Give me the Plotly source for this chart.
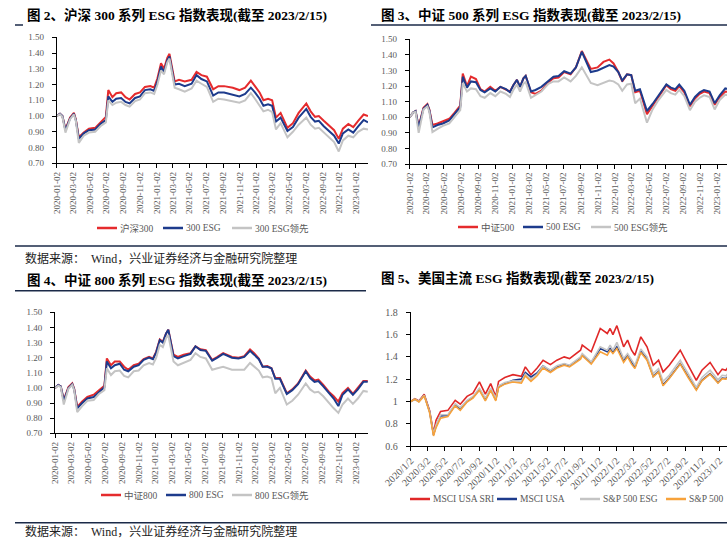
import plotly.graph_objects as go

W, H = 727, 547

# ---------------- data ----------------
CN_DATES = [
    "2020-01-02", "2020-01-14", "2020-01-23", "2020-02-03", "2020-02-20", "2020-03-05", "2020-03-12",
    "2020-03-23", "2020-04-10", "2020-04-29", "2020-05-22", "2020-06-10", "2020-06-30", "2020-07-09",
    "2020-07-24", "2020-08-07", "2020-08-25", "2020-09-10", "2020-09-25", "2020-10-15", "2020-11-02",
    "2020-11-20", "2020-12-10", "2020-12-24", "2021-01-05", "2021-01-18", "2021-01-29", "2021-02-10",
    "2021-02-18", "2021-03-09", "2021-03-25", "2021-04-15", "2021-05-10", "2021-05-28", "2021-06-15",
    "2021-07-05", "2021-07-28", "2021-08-16", "2021-09-06", "2021-10-08", "2021-11-01", "2021-11-22",
    "2021-12-13", "2021-12-28", "2022-01-14", "2022-01-28", "2022-02-14", "2022-03-01", "2022-03-15",
    "2022-04-01", "2022-04-26", "2022-05-16", "2022-06-06", "2022-07-04", "2022-07-20", "2022-08-05",
    "2022-08-19", "2022-09-06", "2022-09-26", "2022-10-14", "2022-10-31", "2022-11-15", "2022-12-05",
    "2022-12-23", "2023-01-10", "2023-01-30", "2023-02-15",
]

HS300 = [1.00, 1.015, 1.00, 0.915, 0.99, 1.02, 0.98, 0.865, 0.895, 0.92, 0.925, 0.96, 0.995, 1.165,
         1.12, 1.145, 1.15, 1.12, 1.105, 1.14, 1.15, 1.185, 1.19, 1.18, 1.24, 1.335, 1.30, 1.37,
         1.395, 1.22, 1.23, 1.22, 1.23, 1.28, 1.26, 1.25, 1.17, 1.19, 1.19, 1.18, 1.165, 1.18,
         1.225, 1.19, 1.15, 1.10, 1.11, 1.10, 0.99, 1.02, 0.925, 0.955, 1.02, 1.08, 1.03, 0.995,
         1.00, 0.97, 0.935, 0.91, 0.855, 0.92, 0.95, 0.93, 0.97, 1.01, 1.00]
ESG300 = [1.00, 1.015, 1.00, 0.91, 0.985, 1.015, 0.975, 0.855, 0.89, 0.91, 0.915, 0.95, 0.975, 1.125,
          1.09, 1.11, 1.115, 1.09, 1.08, 1.115, 1.125, 1.165, 1.17, 1.16, 1.22, 1.315, 1.28, 1.355,
          1.378, 1.20, 1.205, 1.19, 1.205, 1.26, 1.235, 1.22, 1.13, 1.15, 1.15, 1.135, 1.125, 1.14,
          1.18, 1.15, 1.11, 1.065, 1.075, 1.065, 0.965, 0.99, 0.905, 0.93, 0.99, 1.045, 0.995, 0.965,
          0.97, 0.935, 0.905, 0.875, 0.825, 0.89, 0.915, 0.895, 0.935, 0.975, 0.96]
ESG300_LEAD = [1.00, 1.012, 0.995, 0.895, 0.98, 1.01, 0.97, 0.83, 0.875, 0.895, 0.90, 0.935, 0.96, 1.10,
               1.07, 1.085, 1.09, 1.07, 1.06, 1.095, 1.105, 1.145, 1.15, 1.14, 1.20, 1.29, 1.265, 1.34,
               1.365, 1.18, 1.17, 1.155, 1.175, 1.225, 1.205, 1.185, 1.09, 1.11, 1.105, 1.095, 1.085, 1.10,
               1.145, 1.11, 1.07, 1.03, 1.04, 1.025, 0.915, 0.955, 0.865, 0.90, 0.945, 0.99, 0.945, 0.92,
               0.925, 0.895, 0.865, 0.835, 0.775, 0.845, 0.875, 0.865, 0.90, 0.92, 0.915]

ZZ500 = [1.00, 1.03, 1.04, 0.94, 1.06, 1.085, 1.05, 0.95, 0.96, 0.975, 0.99, 1.03, 1.075, 1.28,
         1.20, 1.26, 1.245, 1.18, 1.165, 1.195, 1.17, 1.195, 1.18, 1.165, 1.205, 1.24, 1.195, 1.25,
         1.265, 1.16, 1.15, 1.17, 1.225, 1.25, 1.255, 1.29, 1.275, 1.32, 1.425, 1.31, 1.32, 1.355,
         1.37, 1.345, 1.29, 1.23, 1.275, 1.27, 1.16, 1.17, 1.02, 1.075, 1.13, 1.205, 1.18, 1.17,
         1.20, 1.16, 1.07, 1.12, 1.15, 1.165, 1.155, 1.08, 1.13, 1.165, 1.16]
ESG500 = [1.00, 1.03, 1.04, 0.935, 1.055, 1.08, 1.045, 0.935, 0.95, 0.96, 0.98, 1.02, 1.065, 1.26,
          1.19, 1.23, 1.225, 1.175, 1.16, 1.185, 1.165, 1.195, 1.18, 1.16, 1.205, 1.24, 1.195, 1.25,
          1.265, 1.165, 1.175, 1.195, 1.235, 1.26, 1.265, 1.295, 1.28, 1.32, 1.42, 1.29, 1.30, 1.315,
          1.335, 1.325, 1.29, 1.235, 1.275, 1.27, 1.17, 1.18, 1.04, 1.085, 1.14, 1.21, 1.19, 1.18,
          1.21, 1.17, 1.08, 1.13, 1.16, 1.175, 1.165, 1.09, 1.14, 1.185, 1.18]
ESG500_LEAD = [1.00, 1.03, 1.035, 0.90, 1.05, 1.07, 1.035, 0.905, 0.925, 0.945, 0.96, 1.00, 1.045, 1.22,
               1.165, 1.185, 1.18, 1.135, 1.125, 1.155, 1.135, 1.165, 1.15, 1.13, 1.175, 1.21, 1.165, 1.215,
               1.225, 1.125, 1.14, 1.165, 1.215, 1.23, 1.23, 1.255, 1.23, 1.265, 1.32, 1.22, 1.205, 1.22,
               1.235, 1.23, 1.21, 1.17, 1.21, 1.215, 1.09, 1.12, 0.965, 1.05, 1.11, 1.175, 1.155, 1.145,
               1.175, 1.135, 1.045, 1.10, 1.125, 1.14, 1.13, 1.05, 1.11, 1.145, 1.14]

ZZ800 = [1.00, 1.02, 1.01, 0.92, 1.005, 1.03, 0.995, 0.875, 0.91, 0.94, 0.955, 0.985, 1.015, 1.195,
         1.15, 1.175, 1.175, 1.14, 1.12, 1.15, 1.16, 1.19, 1.205, 1.195, 1.24, 1.32, 1.305, 1.36,
         1.385, 1.22, 1.205, 1.22, 1.23, 1.275, 1.255, 1.25, 1.185, 1.205, 1.23, 1.205, 1.20, 1.21,
         1.255, 1.23, 1.195, 1.14, 1.145, 1.13, 1.065, 1.065, 0.965, 0.99, 1.03, 1.115, 1.075, 1.05,
         1.055, 1.02, 0.975, 0.945, 0.91, 0.965, 1.00, 0.96, 1.00, 1.045, 1.045]
ESG800 = [1.00, 1.02, 1.01, 0.915, 1.00, 1.025, 0.99, 0.865, 0.90, 0.93, 0.94, 0.975, 1.005, 1.175,
          1.13, 1.15, 1.16, 1.12, 1.11, 1.14, 1.15, 1.185, 1.20, 1.19, 1.235, 1.315, 1.30, 1.36,
          1.385, 1.21, 1.195, 1.21, 1.225, 1.275, 1.25, 1.245, 1.18, 1.20, 1.225, 1.20, 1.195, 1.205,
          1.245, 1.22, 1.19, 1.14, 1.14, 1.13, 1.06, 1.06, 0.96, 0.985, 1.025, 1.11, 1.065, 1.04,
          1.045, 1.01, 0.965, 0.93, 0.88, 0.955, 0.99, 0.955, 0.99, 1.04, 1.04]
ESG800_LEAD = [1.00, 1.015, 1.005, 0.89, 0.995, 1.02, 0.985, 0.84, 0.88, 0.915, 0.92, 0.96, 0.985, 1.13,
               1.085, 1.11, 1.115, 1.08, 1.07, 1.11, 1.115, 1.15, 1.165, 1.155, 1.20, 1.285, 1.27, 1.33,
               1.35, 1.175, 1.15, 1.165, 1.185, 1.23, 1.205, 1.195, 1.12, 1.13, 1.14, 1.12, 1.12, 1.12,
               1.165, 1.14, 1.115, 1.07, 1.075, 1.065, 0.965, 1.00, 0.89, 0.915, 0.955, 1.03, 0.99, 0.97,
               0.975, 0.945, 0.90, 0.865, 0.835, 0.89, 0.93, 0.895, 0.93, 0.98, 0.975]

US_DATES = [
    "2020-01-02", "2020-01-17", "2020-01-31", "2020-02-19", "2020-03-09", "2020-03-23", "2020-04-01",
    "2020-04-17", "2020-05-13", "2020-06-08", "2020-06-26", "2020-07-20", "2020-08-10", "2020-09-02",
    "2020-09-23", "2020-10-12", "2020-10-30", "2020-11-09", "2020-12-01", "2020-12-30", "2021-01-29",
    "2021-02-12", "2021-03-04", "2021-03-26", "2021-04-16", "2021-05-12", "2021-06-04", "2021-06-30",
    "2021-07-19", "2021-08-27", "2021-09-02", "2021-10-04", "2021-11-05", "2021-11-30", "2021-12-10",
    "2021-12-20", "2022-01-03", "2022-01-27", "2022-02-10", "2022-02-24", "2022-03-08", "2022-03-29",
    "2022-04-20", "2022-05-12", "2022-05-31", "2022-06-16", "2022-07-08", "2022-08-16", "2022-09-13",
    "2022-09-30", "2022-10-12", "2022-11-01", "2022-11-30", "2022-12-28", "2023-01-12", "2023-01-25",
    "2023-02-02", "2023-02-15",
]
MSCI_USA_SRI = [1.00, 1.025, 1.005, 1.065, 0.92, 0.72, 0.83, 0.91, 0.92, 1.01, 0.975, 1.045, 1.075, 1.175,
                1.065, 1.16, 1.045, 1.18, 1.215, 1.24, 1.225, 1.31, 1.24, 1.30, 1.37, 1.33, 1.37, 1.40,
                1.385, 1.46, 1.505, 1.445, 1.655, 1.61, 1.655, 1.60, 1.68, 1.49, 1.55, 1.46, 1.415, 1.58,
                1.49, 1.325, 1.37, 1.265, 1.325, 1.46, 1.325, 1.25, 1.19, 1.28, 1.35, 1.24, 1.29, 1.28,
                1.31, 1.30]
MSCI_USA = [1.00, 1.02, 1.00, 1.055, 0.91, 0.70, 0.78, 0.87, 0.875, 0.97, 0.935, 1.00, 1.035, 1.11,
            1.015, 1.11, 1.015, 1.13, 1.16, 1.19, 1.20, 1.26, 1.22, 1.255, 1.32, 1.27, 1.31, 1.335,
            1.32, 1.39, 1.415, 1.345, 1.475, 1.445, 1.475, 1.44, 1.49, 1.37, 1.41, 1.35, 1.305, 1.45,
            1.38, 1.225, 1.27, 1.15, 1.21, 1.34, 1.22, 1.155, 1.11, 1.19, 1.25, 1.17, 1.21, 1.205,
            1.225, 1.22]
SP500_ESG = [1.00, 1.02, 1.00, 1.055, 0.91, 0.71, 0.79, 0.88, 0.88, 0.98, 0.945, 1.01, 1.045, 1.12,
             1.03, 1.12, 1.03, 1.14, 1.17, 1.185, 1.18, 1.245, 1.195, 1.245, 1.32, 1.28, 1.32, 1.34,
             1.325, 1.40, 1.43, 1.355, 1.49, 1.46, 1.505, 1.46, 1.53, 1.385, 1.43, 1.37, 1.325, 1.47,
             1.40, 1.25, 1.295, 1.18, 1.235, 1.37, 1.245, 1.18, 1.125, 1.215, 1.28, 1.195, 1.235, 1.23,
             1.25, 1.245]
SP500 = [1.00, 1.02, 0.995, 1.05, 0.90, 0.69, 0.765, 0.85, 0.865, 0.96, 0.92, 0.995, 1.03, 1.10,
         1.005, 1.10, 1.005, 1.125, 1.155, 1.175, 1.165, 1.23, 1.18, 1.23, 1.30, 1.26, 1.30, 1.325,
         1.31, 1.38, 1.41, 1.335, 1.445, 1.415, 1.46, 1.43, 1.475, 1.35, 1.40, 1.335, 1.295, 1.44,
         1.37, 1.22, 1.265, 1.14, 1.205, 1.335, 1.215, 1.15, 1.10, 1.185, 1.245, 1.165, 1.205, 1.20,
         1.22, 1.215]

NAMES_2 = ["沪深300", "300 ESG", "300 ESG领先"]
NAMES_3 = ["中证500", "500 ESG", "500 ESG领先"]
NAMES_4 = ["中证800", "800 ESG", "800 ESG领先"]
NAMES_5 = ["MSCI USA SRI", "MSCI USA", "S&P 500 ESG", "S&P 500"]

TITLES = [
    "图 2、沪深 300 系列 ESG 指数表现(截至 2023/2/15)",
    "图 3、中证 500 系列 ESG 指数表现(截至 2023/2/15)",
    "图 4、中证 800 系列 ESG 指数表现(截至 2023/2/15)",
    "图 5、美国主流 ESG 指数表现(截至 2023/2/15)",
]
SOURCE = "数据来源：  Wind，兴业证券经济与金融研究院整理"

# ---------------- styling ----------------
RED = "#E52B2D"
NAVY = "#1D3B8C"
GRAY = "#C4C4C4"
ORANGE = "#F7A23B"
RED5 = "#E02828"
SERIF = "Liberation Serif, Times New Roman, Noto Sans CJK SC"
TICKC = "#595959"


def px(x):
    return x / W


def py(y):
    return 1 - y / H


fig = go.Figure()

panels = [
    dict(ax="", dates=CN_DATES, names=NAMES_2, vals=[HS300, ESG300, ESG300_LEAD],
         cols=[RED, NAVY, GRAY], legy=228, legx=[97, 163, 232]),
    dict(ax="2", dates=CN_DATES, names=NAMES_3, vals=[ZZ500, ESG500, ESG500_LEAD],
         cols=[RED, NAVY, GRAY], legy=227, legx=[458, 523, 591]),
    dict(ax="3", dates=CN_DATES, names=NAMES_4, vals=[ZZ800, ESG800, ESG800_LEAD],
         cols=[RED, NAVY, GRAY], legy=495, legx=[101, 166, 232]),
    dict(ax="4", dates=US_DATES, names=NAMES_5, vals=[MSCI_USA_SRI, MSCI_USA, SP500_ESG, SP500],
         cols=[RED5, NAVY, GRAY, ORANGE], legy=499, legx=[410, 497, 580, 666]),
]

shapes = []
ann = []
for p in panels:
    for name, vals, col, lx in zip(p["names"], p["vals"], p["cols"], p["legx"]):
        fig.add_trace(go.Scatter(
            x=p["dates"], y=vals, name=name, mode="lines",
            line=dict(color=col, width=2 if p["ax"] != "4" else 1.6),
            xaxis="x" + p["ax"], yaxis="y" + p["ax"], showlegend=False,
        ))
        # legend key (line sample + label)
        shapes.append(dict(type="line", xref="paper", yref="paper",
                           x0=px(lx), x1=px(lx + 20), y0=py(p["legy"]), y1=py(p["legy"]),
                           line=dict(color=col, width=2.5)))
        ann.append(dict(text=name, x=px(lx + 21), y=py(p["legy"]), xref="paper", yref="paper",
                        xanchor="left", yanchor="middle", align="left", showarrow=False,
                        font=dict(family=SERIF, size=9.5, color=TICKC)))

common_x = dict(type="date", showline=True, linecolor="#000000", linewidth=1,
                ticks="outside", ticklen=4, tickcolor="#000000", showgrid=False,
                tick0="2020-01-02", dtick="M2", automargin=False,
                tickfont=dict(family=SERIF, size=9, color=TICKC))
common_y = dict(showline=True, linecolor="#000000", linewidth=1, ticks="outside",
                ticklen=4, tickcolor="#000000", showgrid=False, zeroline=False,
                ticklabelstandoff=6, automargin=False,
                tickfont=dict(family=SERIF, size=9, color=TICKC))

layout = dict(
    template="none",
    width=W, height=H, margin=dict(l=0, r=0, t=0, b=0, pad=0, autoexpand=False),
    paper_bgcolor="white", plot_bgcolor="white", showlegend=False,
    xaxis=dict(common_x, domain=[px(56.7), px(368)], range=["2020-01-02", "2023-02-15"],
               tickformat="%Y-%m-%d", tickangle=-90, anchor="y"),
    yaxis=dict(common_y, domain=[py(163.3), py(37.3)], range=[0.7, 1.5], dtick=0.1,
               tickformat=".2f", anchor="x"),
    xaxis2=dict(common_x, domain=[px(409.7), 1.0], range=["2020-01-02", "2023-02-05"],
                tickformat="%Y-%m-%d", tickangle=-90, anchor="y2"),
    yaxis2=dict(common_y, domain=[py(164), py(39.3)], range=[0.7, 1.5], dtick=0.1,
                tickformat=".2f", anchor="x2"),
    xaxis3=dict(common_x, domain=[px(55), px(368)], range=["2020-01-02", "2023-02-16"],
                tickformat="%Y-%m-%d", tickangle=-90, anchor="y3"),
    yaxis3=dict(common_y, domain=[py(433.3), py(312.3)], range=[0.7, 1.5], dtick=0.1,
                tickformat=".2f", anchor="x3"),
    xaxis4=dict(common_x, domain=[px(410.7), 1.0], range=["2020-01-02", "2023-01-29"],
                tickformat="%Y/%-m/%-d", tickangle=-45, anchor="y4",
                tickfont=dict(family=SERIF, size=10, color=TICKC)),
    yaxis4=dict(common_y, domain=[py(446), py(312.3)], range=[0.6, 1.8], dtick=0.2, anchor="x4",
                tickfont=dict(family=SERIF, size=10, color=TICKC)),
)

title_pos = [(25, 15), (379, 15), (25, 280), (379, 278)]
for t, (tx, ty) in zip(TITLES, title_pos):
    ann.append(dict(text="<b>" + t + "</b>", x=px(tx), y=py(ty), xref="paper", yref="paper",
                    xanchor="left", yanchor="middle", align="left", showarrow=False,
                    font=dict(family=SERIF, size=13.5, color="#000000")))
for sy in (258, 531):
    ann.append(dict(text=SOURCE, x=px(23), y=py(sy), xref="paper", yref="paper",
                    xanchor="left", yanchor="middle", align="left", showarrow=False,
                    font=dict(family=SERIF, size=12, color="#222222")))
layout["annotations"] = ann

LINEC = "#1b2a48"
shapes += [
    dict(type="line", xref="paper", yref="paper", x0=px(15), x1=px(23), y0=py(25), y1=py(25),
         line=dict(color=LINEC, width=1.5)),
    dict(type="line", xref="paper", yref="paper", x0=px(371), x1=1, y0=py(25), y1=py(25),
         line=dict(color=LINEC, width=1.5)),
    dict(type="line", xref="paper", yref="paper", x0=px(15), x1=1, y0=py(246), y1=py(246),
         line=dict(color=LINEC, width=1.5)),
    dict(type="line", xref="paper", yref="paper", x0=px(15), x1=px(366), y0=py(290.7), y1=py(290.7),
         line=dict(color=LINEC, width=1.5)),
    dict(type="line", xref="paper", yref="paper", x0=px(15), x1=1, y0=py(522.7), y1=py(522.7),
         line=dict(color=LINEC, width=1.5)),
]
layout["shapes"] = shapes

fig.update_layout(layout)
fig.write_html(
    "out.html",
    config={"displayModeBar": False, "staticPlot": True},
    post_script="document.body.style.margin='0px';document.body.style.padding='0px';"
                "document.body.style.overflow='hidden';",
)
